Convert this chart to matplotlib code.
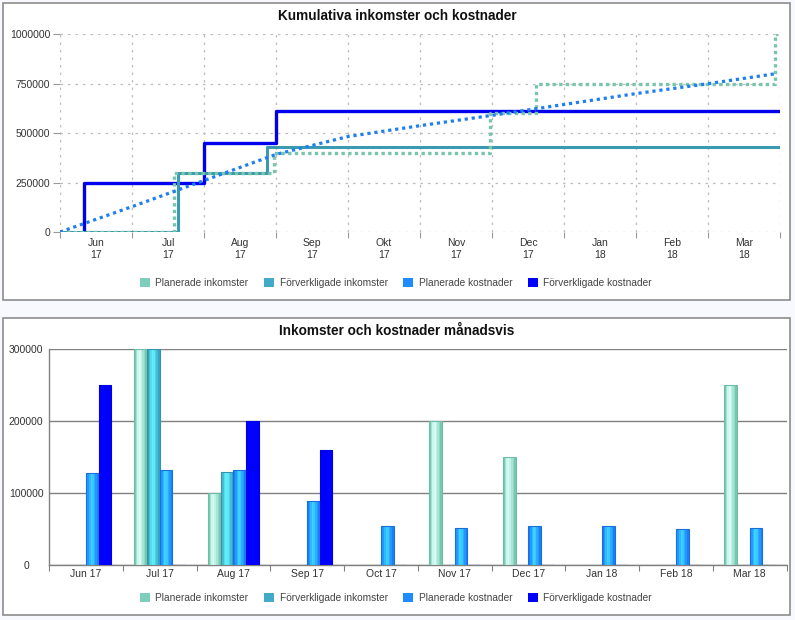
import numpy as np
import matplotlib
matplotlib.use("Agg")
import matplotlib.pyplot as plt
from matplotlib.patches import Rectangle, Patch
import calendar
import datetime as dt

# ---------------- data ----------------
months_top = ["Jun\n17", "Jul\n17", "Aug\n17", "Sep\n17", "Okt\n17",
              "Nov\n17", "Dec\n17", "Jan\n18", "Feb\n18", "Mar\n18"]
months_bottom = ["Jun 17", "Jul 17", "Aug 17", "Sep 17", "Oct 17",
                 "Nov 17", "Dec 17", "Jan 18", "Feb 18", "Mar 18"]

plan_income = [0, 300000, 100000, 0, 0, 200000, 150000, 0, 0, 250000]
real_income = [0, 300000, 130000, 0, 0, 0, 0, 0, 0, 0]
plan_cost = [128000, 132000, 132000, 90000, 55000, 52000, 55000, 55000, 50000, 52000]
real_cost = [250000, 0, 200000, 160000, 0, 0, 0, 0, 0, 0]

# dates of the transactions (cumulative chart)
plan_income_dates = ["2017-07-19", "2017-08-31", "2017-11-30", "2017-12-20", "2018-03-30"]
real_income_dates = ["2017-07-21", "2017-08-28"]
real_cost_dates = ["2017-06-11", "2017-08-01", "2017-09-01"]
end_date = "2018-03-31"

series_names = ["Planerade inkomster", "Förverkligade inkomster",
                "Planerade kostnader", "Förverkligade kostnader"]
legend_colors = ["#7fcdbb", "#41aac8", "#1e8cff", "#0000ff"]

# ---------------- helpers ----------------
plt.rcParams['font.family'] = ['Liberation Sans', 'DejaVu Sans']
W, H = 795, 620
fig = plt.figure(figsize=(W / 100, H / 100), dpi=100, facecolor='#f8f9fe')


def frect(l, t, r, b):
    return [l / W, 1 - b / H, (r - l) / W, (b - t) / H]


def pos(datestr):
    d = dt.date.fromisoformat(datestr)
    mi = (d.year - 2017) * 12 + d.month - 6
    ndays = calendar.monthrange(d.year, d.month)[1]
    return mi + (d.day - 1) / ndays


# panels
for (l, t, r, b) in [(3, 3, 790, 300), (3, 318, 790, 615)]:
    fig.patches.append(Rectangle((l / W, 1 - b / H), (r - l) / W, (b - t) / H,
                                 transform=fig.transFigure, facecolor='white',
                                 edgecolor='#8c8c8c', lw=1.2, zorder=-10))

txtc = '#333333'

# ---------------- top chart ----------------
ax1 = fig.add_axes(frect(60, 34, 780, 232))
ax1.set_facecolor('none')
ax1.set_xlim(0, 10)
ax1.set_ylim(0, 1000000)
for s in ax1.spines.values():
    s.set_visible(False)
ax1.set_xticks(np.arange(0, 11))
ax1.set_xticklabels([])
ax1.set_xticks(np.arange(10) + 0.5, minor=True)
ax1.set_xticklabels(months_top, minor=True, fontsize=7.5, color=txtc, linespacing=1.25)
ax1.tick_params(axis='x', which='major', length=4, color='#999999', width=0.8)
ax1.tick_params(axis='x', which='minor', length=0, pad=4)
ax1.set_yticks([0, 250000, 500000, 750000, 1000000])
ax1.set_yticklabels(["0", "250000", "500000", "750000", "1000000"], fontsize=7.5, color=txtc)
ax1.tick_params(axis='y', length=5, color='#999999', width=0.8, pad=2)
ax1.grid(True, which='major', color='#bdbdbd', lw=0.9, linestyle=(0, (2, 4)))

xend = pos(end_date)


def step_xy(dates, monthly, start=0.0):
    amounts = [v for v in monthly if v != 0]
    xs = [start] + [pos(d) for d in dates] + [xend]
    ys = [0] + list(np.cumsum(amounts)) + [np.sum(amounts)]
    return xs, ys


# Förverkligade kostnader (bottom)
xs, ys = step_xy(real_cost_dates, real_cost, start=pos(real_cost_dates[0]))
ax1.step(xs, ys, where='post', color='#0000ee', lw=2.4, zorder=3)
# Förverkligade inkomster
xs, ys = step_xy(real_income_dates, real_income)
ax1.step(xs, ys, where='post', color='#3a9ab0', lw=2.2, zorder=4)
# Planerade inkomster
xs, ys = step_xy(plan_income_dates, plan_income)
ax1.step(xs, ys, where='post', color='#78c4ac', lw=2.4, zorder=5,
         linestyle=(0, (1, 1)), dash_capstyle='butt')
# Planerade kostnader
xp = list(np.arange(10)) + [xend]
yp = [0] + list(np.cumsum(plan_cost))
ax1.plot(xp, yp, color='#1e7ff0', lw=2.3, zorder=6, linestyle=(0, (1, 1.2)),
         dash_capstyle='butt')

fig.text(397 / W, 1 - 16 / H, "Kumulativa inkomster och kostnader", ha='center',
         va='center', fontsize=9.8, fontweight='bold', color='#111111')

handles = [Patch(facecolor=c, edgecolor='none') for c in legend_colors]
for yl in (283, 598):
    fig.legend(handles, series_names, loc='center', bbox_to_anchor=(396 / W, 1 - yl / H),
               ncol=4, frameon=False, fontsize=7.3, handlelength=1.0, handleheight=1.0,
               handletextpad=0.5, columnspacing=1.55, labelcolor='#444444')

# ---------------- bottom chart ----------------
ax2 = fig.add_axes(frect(49, 349.3, 786.5, 565.3))
ax2.set_facecolor('none')
ax2.set_xlim(-0.5, 9.5)
ax2.set_ylim(0, 300000)
for k in ('top', 'right'):
    ax2.spines[k].set_visible(False)
for k in ('left', 'bottom'):
    ax2.spines[k].set_color('#808080')
    ax2.spines[k].set_linewidth(1.0)
ax2.set_yticks([0, 100000, 200000, 300000])
ax2.set_yticklabels(["0", "100000", "200000", "300000"], fontsize=7.5, color=txtc)
ax2.tick_params(axis='y', length=0, pad=16.5)
for lab in ax2.get_yticklabels():
    lab.set_horizontalalignment('center')
ax2.yaxis.grid(True, color='#808080', lw=1.0)
ax2.set_axisbelow(True)
ax2.set_xticks(np.arange(11) - 0.5)
ax2.set_xticklabels([])
ax2.tick_params(axis='x', which='major', length=4, color='#808080', width=0.8)
ax2.set_xticks(np.arange(10), minor=True)
ax2.set_xticklabels(months_bottom, minor=True, fontsize=7.5, color=txtc)
ax2.tick_params(axis='x', which='minor', length=0, pad=3)

bw = 0.172
x = np.arange(10)
profiles = [
    ["#7cc9b4", "#a2e2d2", "#caf6ee", "#d8fbf5", "#c0f0e6", "#a6e4d4", "#90d8c4", "#7ac6b0"],
    ["#3a9cb4", "#48bcd4", "#56dcec", "#60eef8", "#5ce8f4", "#50d2e8", "#44bcd6", "#3aa4c0"],
    ["#1e7cf0", "#2498ff", "#30b8ff", "#3cd4ff", "#38caff", "#2eacff", "#2596ff", "#1e80f0"],
    ["#0000ff"] * 8,
]
edges = ["#6dbda6", "#3394ac", "#1a6fe0", "#0000e0"]
values = [plan_income, real_income, plan_cost, real_cost]
for i, (vals, prof, ec) in enumerate(zip(values, profiles, edges)):
    cx = x + (i - 1.5) * bw
    n = len(prof)
    sw = bw / n
    for j, c in enumerate(prof):
        ax2.bar(cx - bw / 2 + (j + 0.5) * sw, vals, width=sw * 1.02, color=c,
                edgecolor='none', zorder=3)
    ax2.bar(cx, vals, width=bw, facecolor='none', edgecolor=ec, lw=0.8, zorder=4)

fig.text(397 / W, 1 - 331 / H, "Inkomster och kostnader månadsvis", ha='center',
         va='center', fontsize=9.8, fontweight='bold', color='#111111')

fig.savefig("out.png", dpi=100, facecolor=fig.get_facecolor())
